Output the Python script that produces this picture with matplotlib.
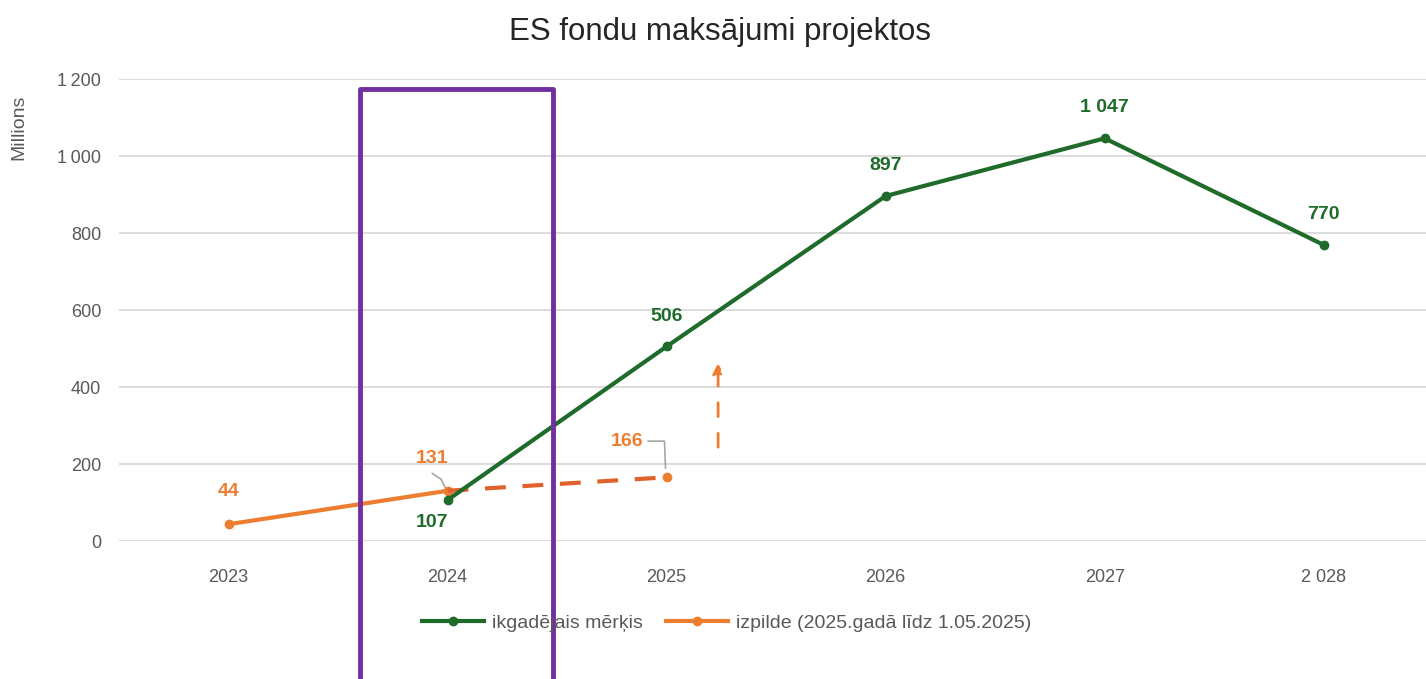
import matplotlib
matplotlib.use('Agg')
import matplotlib.pyplot as plt
from matplotlib.ticker import FuncFormatter

years = ['2023', '2024', '2025', '2026', '2027', '2 028']
target_x = [1, 2, 3, 4, 5]
target = [107, 506, 897, 1047, 770]
done_x = [0, 1]
done = [44, 131]
done_2025 = 166
target_labels = ['107', '506', '897', '1 047', '770']

GREEN = '#1f6b2a'
ORANGE = '#ed7d31'
DARK_ORANGE = '#e0622a'
PURPLE = '#7030a0'
GREY = '#595959'

plt.rcParams['font.family'] = ['Liberation Sans', 'DejaVu Sans']

fig = plt.figure(figsize=(14.26, 6.79), dpi=100)
ax = fig.add_axes([0.0835, 0.203, 0.93, 0.68])

ax.set_xlim(-0.5, 5.555)
ax.set_ylim(0, 1200)
ax.set_yticks(range(0, 1201, 200))
ax.yaxis.set_major_formatter(FuncFormatter(lambda v, p: f'{int(v):,}'.replace(',', '\u2009')))
ax.set_xticks(range(len(years)))
ax.set_xticklabels(years)
ax.grid(axis='y', color='#d9d9d9', linewidth=1.3)
ax.set_axisbelow(True)
for s in ax.spines.values():
    s.set_visible(False)
ax.tick_params(length=0, colors=GREY, labelsize=13)
ax.tick_params(axis='x', pad=20)
ax.tick_params(axis='y', pad=13)

# target line
ax.plot(target_x, target, color=GREEN, linewidth=3, marker='o', markersize=6,
        label='ikgadējais mērķis', zorder=4)
# performance line
ax.plot(done_x, done, color=ORANGE, linewidth=3, marker='o', markersize=6,
        label='izpilde (2025.gadā līdz 1.05.2025)', zorder=3)
ax.plot([1, 2], [done[1], done_2025], color=DARK_ORANGE, linewidth=3, dashes=(5, 4), zorder=3)
ax.plot([2], [done_2025], color=ORANGE, marker='o', markersize=6, zorder=3)
ax.annotate('', xy=(2.235, 470), xytext=(2.235, 237),
            arrowprops=dict(arrowstyle='-|>', color=ORANGE, linestyle=(0, (5, 6)),
                            linewidth=2, mutation_scale=16), zorder=3)

# data labels
for x, y, t in zip(target_x, target, target_labels):
    if x == 1:
        ax.text(x - 0.07, y - 58, t, color=GREEN, fontsize=14, fontweight='bold',
                ha='center', va='center')
    else:
        ax.text(x, y + 79, t, color=GREEN, fontsize=14, fontweight='bold',
                ha='center', va='center')
ax.text(0, done[0] + 84, str(done[0]), color=ORANGE, fontsize=14, fontweight='bold',
        ha='center', va='center')
ax.text(0.93, done[1] + 85, str(done[1]), color=ORANGE, fontsize=14, fontweight='bold',
        ha='center', va='center')
ax.plot([0.93, 0.97, 0.99], [done[1] + 45, done[1] + 30, done[1] + 8], color='#a6a6a6', lw=1.2)
ax.text(1.82, 260, str(done_2025), color=ORANGE, fontsize=14, fontweight='bold',
        ha='center', va='center')
ax.plot([1.916, 1.99, 1.995], [260, 260, 190], color='#a6a6a6', lw=1.2)

ax.set_ylabel('Millions', color=GREY, fontsize=14)
ax.yaxis.set_label_coords(-0.069, 0.896)

# highlight box around 2024
bx0, bx1, btop, bbot = 0.60, 1.482, 1174, -420
ax.plot([bx0, bx0, bx1, bx1], [bbot, btop, btop, bbot], color=PURPLE, linewidth=3.5,
        clip_on=False, zorder=5)

fig.suptitle('ES fondu maksājumi projektos', fontsize=22.5, color='#262626', y=0.975, x=0.505)
ax.legend(loc='upper center', bbox_to_anchor=(0.458, -0.12), ncol=2, frameon=False,
          fontsize=14, labelcolor=GREY, handlelength=3.2, columnspacing=1.2,
          handletextpad=0.4)

fig.savefig('out.png', dpi=100)
